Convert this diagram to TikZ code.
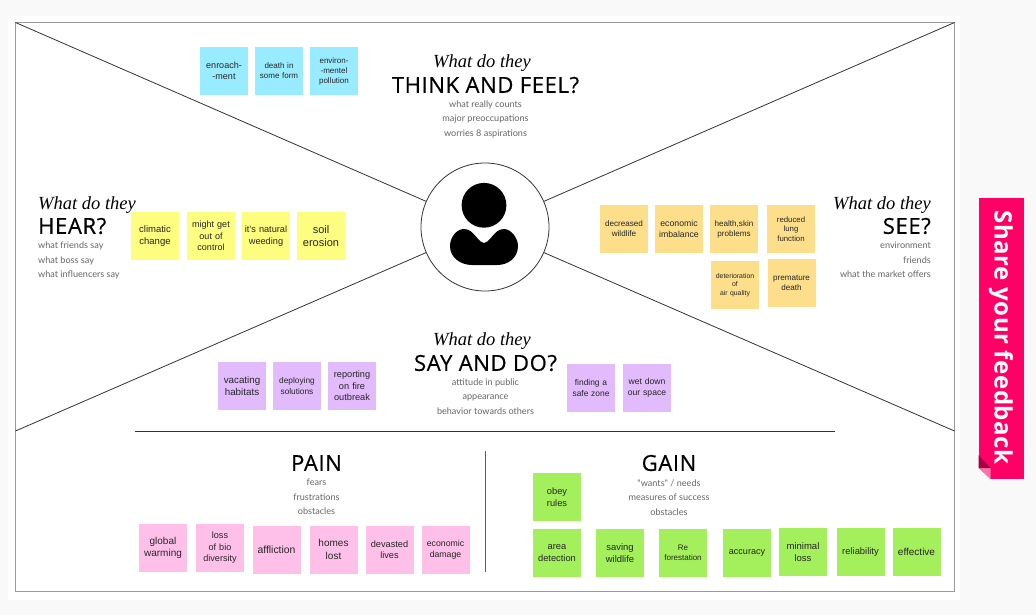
\documentclass[tikz,border=0pt]{standalone}
\usepackage{fontspec}
\setmainfont{Liberation Sans}
\newfontfamily\headfont[LetterSpace=3, FakeBold=0.5]{Open Sans}
\newfontfamily\tabfont[LetterSpace=2]{Open Sans}
\newfontfamily\subfont{Lato}
\newfontfamily\handfont{Liberation Serif}
\usetikzlibrary{positioning}
\definecolor{clrPage}{HTML}{F9F9F9}
\definecolor{clrFrame}{HTML}{9A9A9A}
\definecolor{clrLine}{HTML}{333333}
\definecolor{clrSub}{HTML}{666666}
\definecolor{clrBlue}{HTML}{99ECFF}
\definecolor{clrYellow}{HTML}{FDFD80}
\definecolor{clrOrange}{HTML}{FDDF8B}
\definecolor{clrPurple}{HTML}{E1BBFC}
\definecolor{clrPink}{HTML}{FEC0E8}
\definecolor{clrGreen}{HTML}{A3EF5C}
\definecolor{clrTab}{HTML}{FF0066}
\newcommand{\notefont}[1]{\fontsize{#1}{\fpeval{1.25*#1}}\selectfont}
\tikzstyle{sticky}=[anchor=center, text centered, text=black!85, inner sep=1pt, outer sep=0pt,
text width=46pt, minimum height=48pt]
\tikzstyle{noteblue}=[sticky, fill=clrBlue]
\tikzstyle{noteyellow}=[sticky, fill=clrYellow]
\tikzstyle{noteorange}=[sticky, fill=clrOrange]
\tikzstyle{notepurple}=[sticky, fill=clrPurple]
\tikzstyle{notepink}=[sticky, fill=clrPink]
\tikzstyle{notegreen}=[sticky, fill=clrGreen]
\tikzstyle{script}=[font=\handfont\itshape\fontsize{18.5}{18.5}\selectfont, inner sep=0pt]
\tikzstyle{heading}=[font=\headfont\fontsize{22}{22}\selectfont, text=black, inner sep=0pt]
\tikzstyle{subtext}=[font=\subfont\fontsize{9.1}{14.5}\selectfont, text=clrSub, inner sep=0pt]
\tikzstyle{line}=[clrLine, line width=0.8pt]
\begin{document}
\begin{tikzpicture}[x=1pt, y=-1pt]
	\useasboundingbox (0,0) rectangle (1036,615);
	\fill[clrPage] (0,0) rectangle (1036,615);
	\fill[white] (8,16) rectangle (960,600);
	\draw[clrFrame, line width=0.8pt] (15.5,22.5) rectangle (954.5,591);

	\coordinate (topleft) at (15.5,22.5);
	\coordinate (topright) at (954.5,22.5);
	\coordinate (midleft) at (15.5,431);
	\coordinate (midright) at (954.5,431);
	\coordinate (ruleleft) at (135,431);
	\coordinate (ruleright) at (835,431);
	\coordinate (splittop) at (485,451);
	\coordinate (splitbottom) at (485,572);

	% persona in the middle
	\node[circle, draw=clrLine, line width=0.8pt, fill=white, minimum size=128pt, inner sep=0pt] (persona) at (485,227) {};
	\draw[line] (topleft) -- (persona);
	\draw[line] (topright) -- (persona);
	\draw[line] (midleft) -- (persona);
	\draw[line] (midright) -- (persona);
	\draw[line] (ruleleft) -- (ruleright);
	\draw[clrLine!80, line width=1pt] (splittop) -- (splitbottom);
	\fill[black] (484,205.3) circle (22.4);
	\fill[black] (484,243) .. controls (482,243) and (480,241) .. (478,239)
		.. controls (473,233) and (470,229) .. (464,229)
		.. controls (456,229) and (450,238) .. (450,246)
		.. controls (450,258) and (461,265) .. (472,265)
		-- (497,265) .. controls (508,265) and (518,258) .. (518,246)
		.. controls (518,238) and (511,229) .. (504,229)
		.. controls (498,229) and (495,233) .. (490,239)
		.. controls (488,241) and (486,243) .. (484,243) -- cycle;

	% think and feel
	\node[script] (thinkscript) at (482,63) {What do they};
	\node[heading] (thinkhead) at (485.5,85) {THINK AND FEEL?};
	\node[subtext, align=center, below=7pt of thinkhead] (thinksub) {what really counts\\major preoccupations\\worries 8 aspirations};
	\node[noteblue, font=\notefont{9}] (A1) at (224,71) {enroach-\\-ment};
	\node[noteblue, font=\notefont{8}, right=7pt of A1] (A2) {death in\\some form};
	\node[noteblue, font=\notefont{8}, right=7pt of A2] (A3) {environ-\\-mentel\\pollution};

	% hear
	\node[script, anchor=west] (hearscript) at (38,205) {What do they};
	\node[heading, anchor=west] (hearhead) at (38,226) {HEAR?};
	\node[subtext, align=left, anchor=north west] (hearsub) at (38,242) {what friends say\\what boss say\\what influencers say};
	\node[noteyellow, font=\notefont{9.5}] (B1) at (155,236) {climatic\\change};
	\node[noteyellow, font=\notefont{9}, right=8pt of B1] (B2) {might get\\out of\\control};
	\node[noteyellow, font=\notefont{9.2}, right=7pt of B2] (B3) {it's natural\\weeding};
	\node[noteyellow, font=\notefont{11}, right=7pt of B3] (B4) {soil\\erosion};

	% see
	\node[script, anchor=east] (seescript) at (931,205) {What do they};
	\node[heading, anchor=east] (seehead) at (931,226) {SEE?};
	\node[subtext, align=right, anchor=north east] (seesub) at (931,242) {environment\\friends\\what the market offers};
	\node[noteorange, font=\notefont{8.1}] (C1) at (624,229) {decreased\\wildlife};
	\node[noteorange, font=\notefont{8.7}, right=7pt of C1] (C2) {economic\\imbalance};
	\node[noteorange, font=\notefont{8.1}, right=7pt of C2] (C3) {health,skin\\problems};
	\node[noteorange, font=\notefont{7.8}, right=9pt of C3] (C4) {reduced\\lung\\function};
	\node[noteorange, font=\notefont{6.9}] (C5) at (735,285) {deterioration\\of\\air quality};
	\node[noteorange, font=\notefont{8.1}] (C6) at (791.5,283) {premature\\death};

	% say and do
	\node[script] (sayscript) at (482,341) {What do they};
	\node[heading] (sayhead) at (485.5,363) {SAY AND DO?};
	\node[subtext, align=center, below=7pt of sayhead] (saysub) {attitude in public\\appearance\\behavior towards others};
	\node[notepurple, font=\notefont{9.8}] (D1) at (242,386) {vacating\\habitats};
	\node[notepurple, font=\notefont{8.3}, right=7pt of D1] (D2) {deploying\\solutions};
	\node[notepurple, font=\notefont{9.2}, right=7pt of D2] (D3) {reporting\\on fire\\outbreak};
	\node[notepurple, font=\notefont{8.4}] (D4) at (591,388) {finding a\\safe zone};
	\node[notepurple, font=\notefont{8.6}, right=8pt of D4] (D5) {wet down\\our space};

	% pain
	\node[heading] (painhead) at (316.5,463) {PAIN};
	\node[subtext, align=center, below=8pt of painhead] (painsub) {fears\\frustrations\\obstacles};
	\node[notepink, font=\notefont{10}] (E1) at (163,548) {global\\warming};
	\node[notepink, font=\notefont{9.1}, right=9pt of E1] (E2) {loss\\of bio\\diversity};
	\node[notepink, font=\notefont{10.4}] (E3) at (276.5,549.5) {affliction};
	\node[notepink, font=\notefont{10}, right=9pt of E3] (E4) {homes\\lost};
	\node[notepink, font=\notefont{9.2}, right=8pt of E4] (E5) {devasted\\lives};
	\node[notepink, font=\notefont{8.7}, right=8pt of E5] (E6) {economic\\damage};

	% gain
	\node[heading] (gainhead) at (669,463) {GAIN};
	\node[subtext, align=center, below=8pt of gainhead] (gainsub) {"wants" / needs\\measures of success\\obstacles};
	\node[notegreen, font=\notefont{9.3}] (F1) at (557,497) {obey\\rules};
	\node[notegreen, font=\notefont{9.3}] (F2) at (557,553) {area\\detection};
	\node[notegreen, font=\notefont{9.4}] (F3) at (620,553) {saving\\wildlife};
	\node[notegreen, font=\notefont{8}] (F4) at (683,553) {Re\\forestation};
	\node[notegreen, font=\notefont{9.1}] (F5) at (747,553) {accuracy};
	\node[notegreen, font=\notefont{9.5}] (F6) at (803,552) {minimal\\loss};
	\node[notegreen, font=\notefont{9.4}] (F7) at (860.5,552) {reliability};
	\node[notegreen, font=\notefont{10}] (F8) at (916.5,552) {effective};

	% feedback tab
	\fill[clrTab] (978.5,197.5) rectangle (1024,479);
	\fill[clrPage] (978.5,468) -- (990.5,479) -- (978.5,479) -- cycle;
	\fill[clrTab!55!white] (978.5,468) -- (990.5,468) -- (990.5,479) -- cycle;
	\fill[clrTab!65!black] (978.5,455) -- (990.5,468) -- (978.5,468) -- cycle;
	\node[rotate=-90, text=white, font=\tabfont\bfseries\fontsize{24}{24}\selectfont, inner sep=0pt] (feedback) at (1001,337.5) {Share your feedback};
\end{tikzpicture}
\end{document}
